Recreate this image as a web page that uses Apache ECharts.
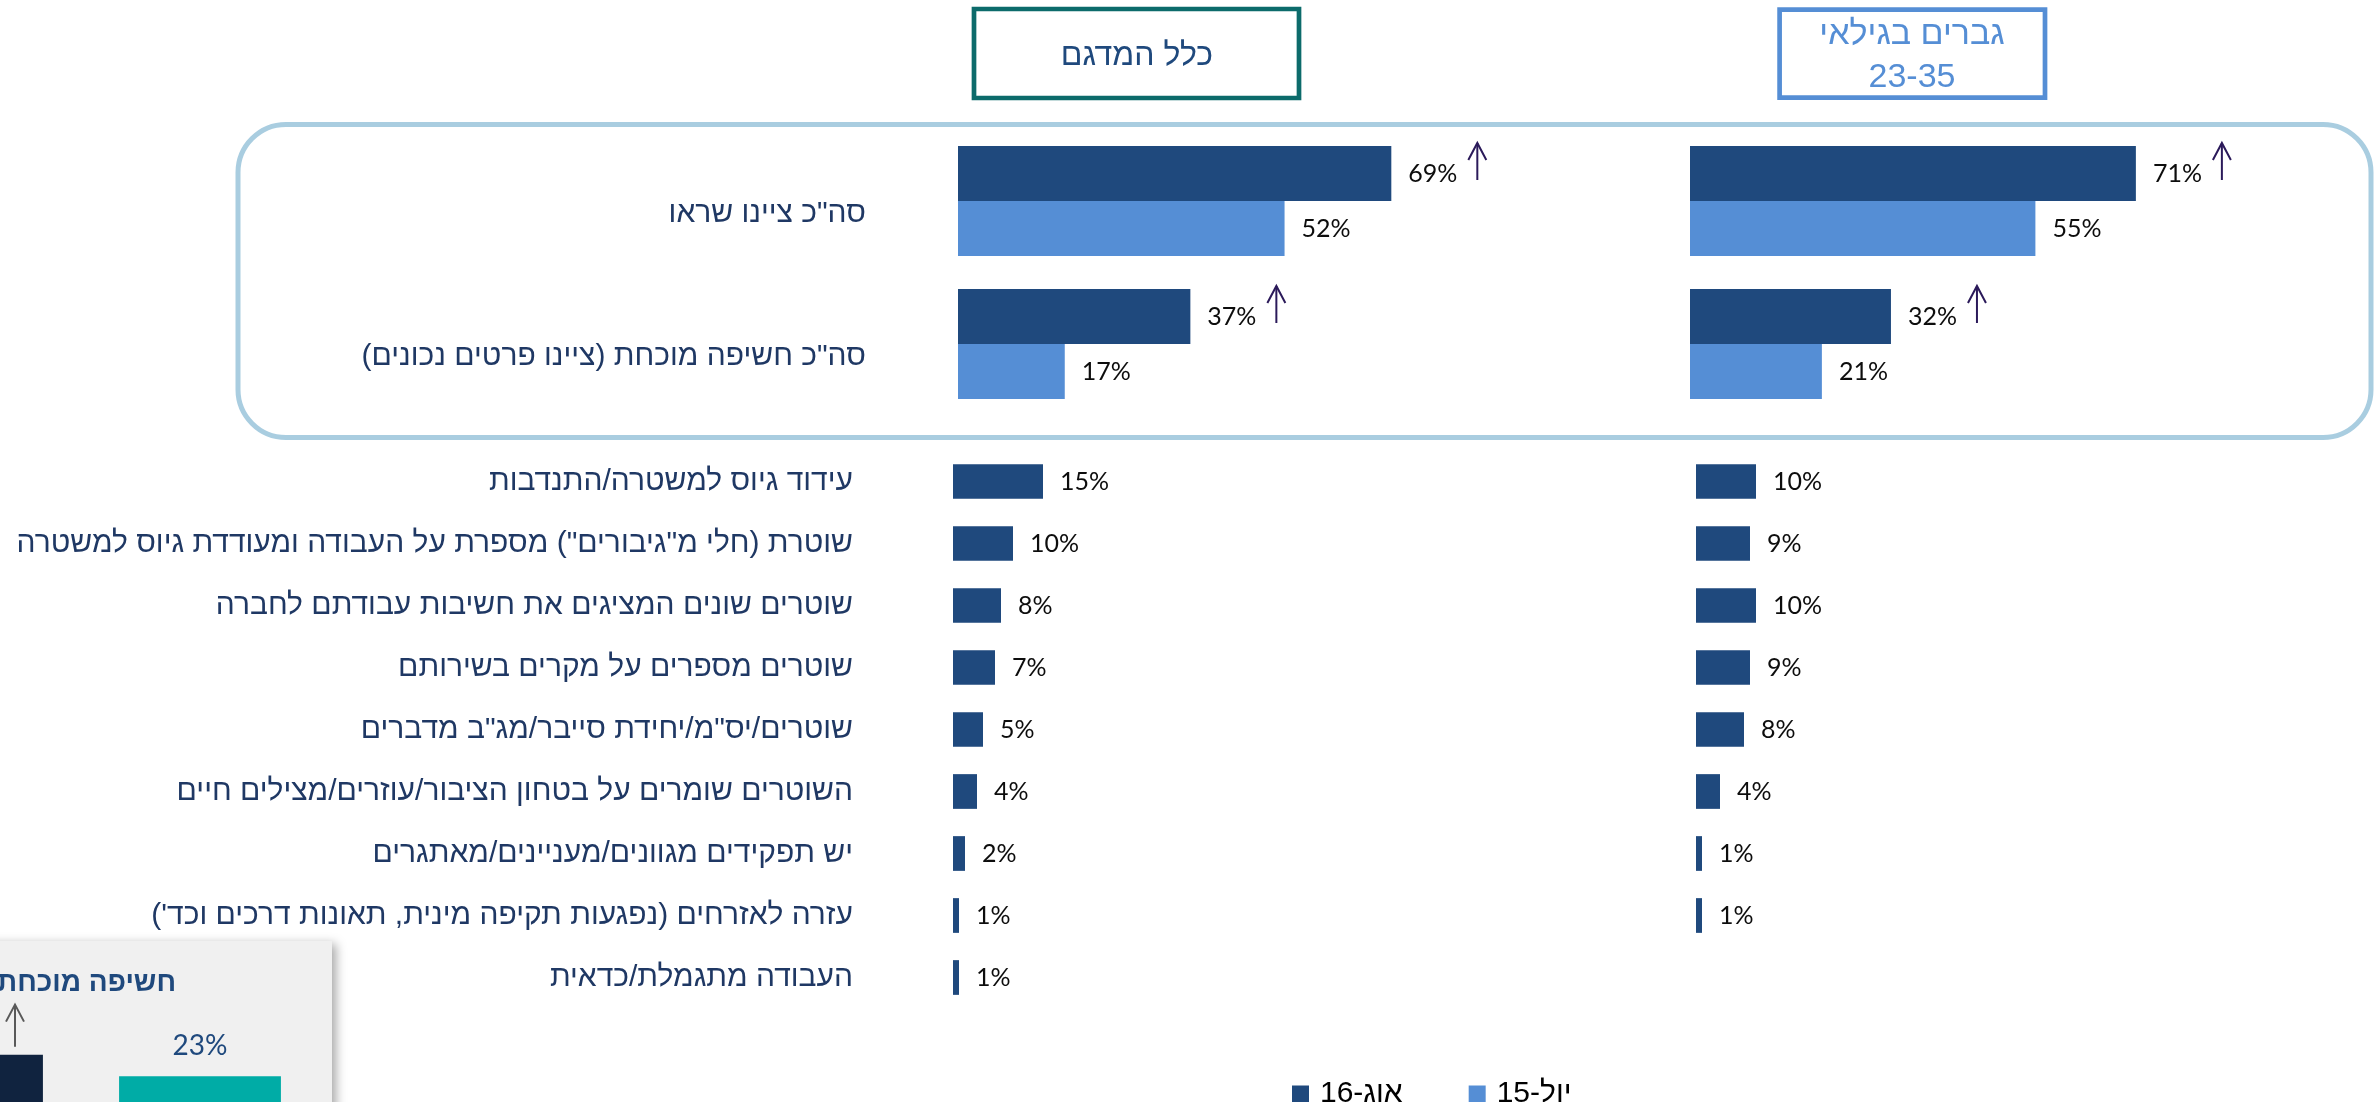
<!DOCTYPE html>
<html lang="he">
<head>
<meta charset="utf-8">
<script src="https://cdn.jsdelivr.net/npm/echarts@6/dist/echarts.min.js"></script>
<style>
html, body { margin: 0; padding: 0; background: #ffffff; }
#chart { width: 2378px; height: 1102px; direction: rtl; }
</style>
</head>
<body>
<div id="chart" dir="rtl"></div>
<script>
// Series names (legend)
const seriesNames = ['אוג-16', 'יול-15'];

// Upper block: overall awareness
const topCategories = ['סה"כ ציינו שראו', 'סה"כ חשיפה מוכחת (ציינו פרטים נכונים)'];
const topAllAug16 = [69, 37];
const topAllJul15 = [52, 17];
const topMenAug16 = [71, 32];
const topMenJul15 = [55, 21];
const topAllRise = [true, true];
const topMenRise = [true, true];

// Lower block: recalled messages (אוג-16)
const lowerCategories = [
  'עידוד גיוס למשטרה/התנדבות',
  'שוטרת (חלי מ"גיבורים") מספרת על העבודה ומעודדת גיוס למשטרה',
  'שוטרים שונים המציגים את חשיבות עבודתם לחברה',
  'שוטרים מספרים על מקרים בשירותם',
  'שוטרים/יס"מ/יחידת סייבר/מג"ב מדברים',
  'השוטרים שומרים על בטחון הציבור/עוזרים/מצילים חיים',
  'יש תפקידים מגוונים/מעניינים/מאתגרים',
  'עזרה לאזרחים (נפגעות תקיפה מינית, תאונות דרכים וכד\')',
  'העבודה מתגמלת/כדאית'
];
const lowerAll = [15, 10, 8, 7, 5, 4, 2, 1, 1];
const lowerMen = [10, 9, 10, 9, 8, 4, 1, 1];

// Side panel: proven exposure
const insetTitle = 'חשיפה מוכחת';
const insetCategories = ['אוג-16', 'יול-15'];
const insetValues = [37, 23];
const insetRise = [true, false];

// Box headings
const headingAll = 'כלל המדגם';
const headingMen = 'גברים בגילאי\n23-35';

const DARK = '#1f497d';
const LIGHT = '#558ed5';
const CAT_COLOR = '#1f3864';
const ARROW = '#2b1a5a';
const HEB = '"Liberation Sans", "DejaVu Sans", sans-serif';
const NUM = 'Lato, "Liberation Sans", sans-serif';

const valueLabel = {
  show: true,
  position: 'right',
  distance: 17,
  formatter: '{c}%',
  color: '#0d0d0d',
  fontFamily: NUM,
  fontSize: 25
};

function hiddenValueAxis(gridIndex) {
  return { type: 'value', gridIndex, min: 0, max: 100, show: false };
}

function catAxis(gridIndex, data, labelOpts) {
  return {
    type: 'category',
    gridIndex,
    data,
    inverse: true,
    axisLine: { show: false },
    axisTick: { show: false },
    splitLine: { show: false },
    axisLabel: labelOpts
      ? Object.assign({ color: CAT_COLOR, fontFamily: HEB, fontSize: 30 }, labelOpts)
      : { show: false }
  };
}

// Up-arrow drawn beside a bar end (horizontal bars)
function riseArrowH(params, api) {
  const p = api.coord([api.value(0), api.value(1)]);
  const x = p[0] + 86;
  const yBottom = p[1] - 21;
  const yTop = p[1] - 58;
  return {
    type: 'group',
    children: [
      { type: 'line', shape: { x1: x, y1: yBottom, x2: x, y2: yTop }, style: { stroke: ARROW, lineWidth: 2 } },
      { type: 'polyline', shape: { points: [[x - 9, yTop + 17], [x, yTop], [x + 9, yTop + 17]] }, style: { stroke: ARROW, lineWidth: 2, fill: null } }
    ]
  };
}

// Up-arrow above a column
function riseArrowV(params, api) {
  const p = api.coord([api.value(0), api.value(1)]);
  const x = p[0] + 53;
  const yBottom = p[1] - 8;
  const yTop = p[1] - 50;
  return {
    type: 'group',
    children: [
      { type: 'line', shape: { x1: x, y1: yBottom, x2: x, y2: yTop }, style: { stroke: '#595959', lineWidth: 2 } },
      { type: 'polyline', shape: { points: [[x - 9, yTop + 17], [x, yTop], [x + 9, yTop + 17]] }, style: { stroke: '#595959', lineWidth: 2, fill: null } }
    ]
  };
}

function arrowData(values, flags) {
  const out = [];
  values.forEach((v, i) => { if (flags[i]) out.push([v, i]); });
  return out;
}

const chart = echarts.init(document.getElementById('chart'), null, { renderer: 'canvas' });

const option = {
  animation: false,
  backgroundColor: '#ffffff',
  grid: [
    { left: 958, top: 129.5, width: 628, height: 286, outerBoundsMode: 'none' },
    { left: 1690, top: 129.5, width: 628, height: 286, outerBoundsMode: 'none' },
    { left: 953, top: 450.5, width: 600, height: 558, outerBoundsMode: 'none' },
    { left: 1696, top: 450.5, width: 600, height: 496, outerBoundsMode: 'none' },
    { left: -157, top: 957, width: 476, height: 155, outerBoundsMode: 'none' }
  ],
  xAxis: [
    hiddenValueAxis(0),
    hiddenValueAxis(1),
    hiddenValueAxis(2),
    hiddenValueAxis(3),
    { type: 'category', gridIndex: 4, data: insetCategories, show: false }
  ],
  yAxis: [
    catAxis(0, topCategories, { margin: 92, verticalAlign: 'top', lineHeight: 26 }),
    catAxis(1, topCategories, null),
    catAxis(2, lowerCategories, { margin: 100 }),
    catAxis(3, lowerCategories.slice(0, lowerMen.length), null),
    { type: 'value', gridIndex: 4, min: 0, max: 100, show: false }
  ],
  legend: {
    data: seriesNames,
    left: 1287,
    top: 1074,
    align: 'left',
    icon: 'rect',
    itemWidth: 17,
    itemHeight: 17,
    itemGap: 66,
    textStyle: { fontFamily: HEB, fontSize: 30, color: '#000000', padding: [0, 0, 0, 6] }
  },
  series: [
    {
      type: 'bar', name: seriesNames[0], xAxisIndex: 0, yAxisIndex: 0,
      data: topAllAug16, itemStyle: { color: DARK },
      barGap: '0%', barCategoryGap: '23%', label: valueLabel
    },
    {
      type: 'bar', name: seriesNames[1], xAxisIndex: 0, yAxisIndex: 0,
      data: topAllJul15, itemStyle: { color: LIGHT },
      barGap: '0%', barCategoryGap: '23%', label: valueLabel
    },
    {
      type: 'bar', name: seriesNames[0], xAxisIndex: 1, yAxisIndex: 1,
      data: topMenAug16, itemStyle: { color: DARK },
      barGap: '0%', barCategoryGap: '23%', label: valueLabel
    },
    {
      type: 'bar', name: seriesNames[1], xAxisIndex: 1, yAxisIndex: 1,
      data: topMenJul15, itemStyle: { color: LIGHT },
      barGap: '0%', barCategoryGap: '23%', label: valueLabel
    },
    {
      type: 'bar', name: seriesNames[0], xAxisIndex: 2, yAxisIndex: 2,
      data: lowerAll, itemStyle: { color: DARK },
      barCategoryGap: '44%', label: valueLabel
    },
    {
      type: 'bar', name: seriesNames[0], xAxisIndex: 3, yAxisIndex: 3,
      data: lowerMen, itemStyle: { color: DARK },
      barCategoryGap: '44%', label: valueLabel
    },
    {
      type: 'custom', xAxisIndex: 0, yAxisIndex: 0,
      data: arrowData(topAllAug16, topAllRise),
      encode: { x: 0, y: 1 }, renderItem: riseArrowH, silent: true, z: 5
    },
    {
      type: 'custom', xAxisIndex: 1, yAxisIndex: 1,
      data: arrowData(topMenAug16, topMenRise),
      encode: { x: 0, y: 1 }, renderItem: riseArrowH, silent: true, z: 5
    },
    {
      type: 'bar', xAxisIndex: 4, yAxisIndex: 4,
      data: insetValues.map((v, i) => ({ value: v, itemStyle: { color: i === 0 ? '#10233f' : '#00aca6' } })),
      barCategoryGap: '32%',
      label: { show: true, position: 'top', distance: 16, formatter: '{c}%', color: '#1f497d', fontFamily: NUM, fontSize: 28 }
    },
    {
      type: 'custom', xAxisIndex: 4, yAxisIndex: 4,
      data: insetValues.map((v, i) => insetRise[i] ? [i, v] : null).filter(d => d),
      encode: { x: 0, y: 1 }, renderItem: riseArrowV, silent: true, z: 5
    }
  ],
  graphic: [
    // framed block around the totals
    {
      type: 'rect', z: 1,
      shape: { x: 238, y: 124.5, width: 2133, height: 313, r: 48 },
      style: { fill: null, stroke: '#a9cde0', lineWidth: 5 }
    },
    // heading boxes
    {
      type: 'rect', z: 1,
      shape: { x: 974, y: 9, width: 325, height: 89 },
      style: { fill: '#ffffff', stroke: '#0c6b6b', lineWidth: 4.7 }
    },
    {
      type: 'text', z: 2,
      style: { x: 1137, y: 56, text: headingAll, align: 'center', verticalAlign: 'middle',
        font: '32px "Liberation Sans", "DejaVu Sans", sans-serif', fill: '#1f497d' }
    },
    {
      type: 'rect', z: 1,
      shape: { x: 1779.6, y: 9.6, width: 265.4, height: 88 },
      style: { fill: '#ffffff', stroke: '#558ed5', lineWidth: 4.7 }
    },
    {
      type: 'text', z: 2,
      style: { x: 1912, y: 56.5, text: headingMen, align: 'center', verticalAlign: 'middle', lineHeight: 43,
        font: '34px "Liberation Sans", "DejaVu Sans", sans-serif', fill: '#558ed5' }
    },
    // side panel
    {
      type: 'rect', z: -5,
      shape: { x: -30, y: 941, width: 362, height: 220 },
      style: { fill: '#f0f0f0', shadowBlur: 10, shadowColor: 'rgba(0,0,0,0.35)', shadowOffsetX: 4, shadowOffsetY: 3 }
    },
    {
      type: 'text', z: 2,
      style: { x: 176, y: 983, text: insetTitle, align: 'right', verticalAlign: 'middle',
        font: 'bold 28px "Liberation Sans", "DejaVu Sans", sans-serif', fill: '#1f497d' }
    }
  ]
};

chart.setOption(option);
</script>
</body>
</html>
